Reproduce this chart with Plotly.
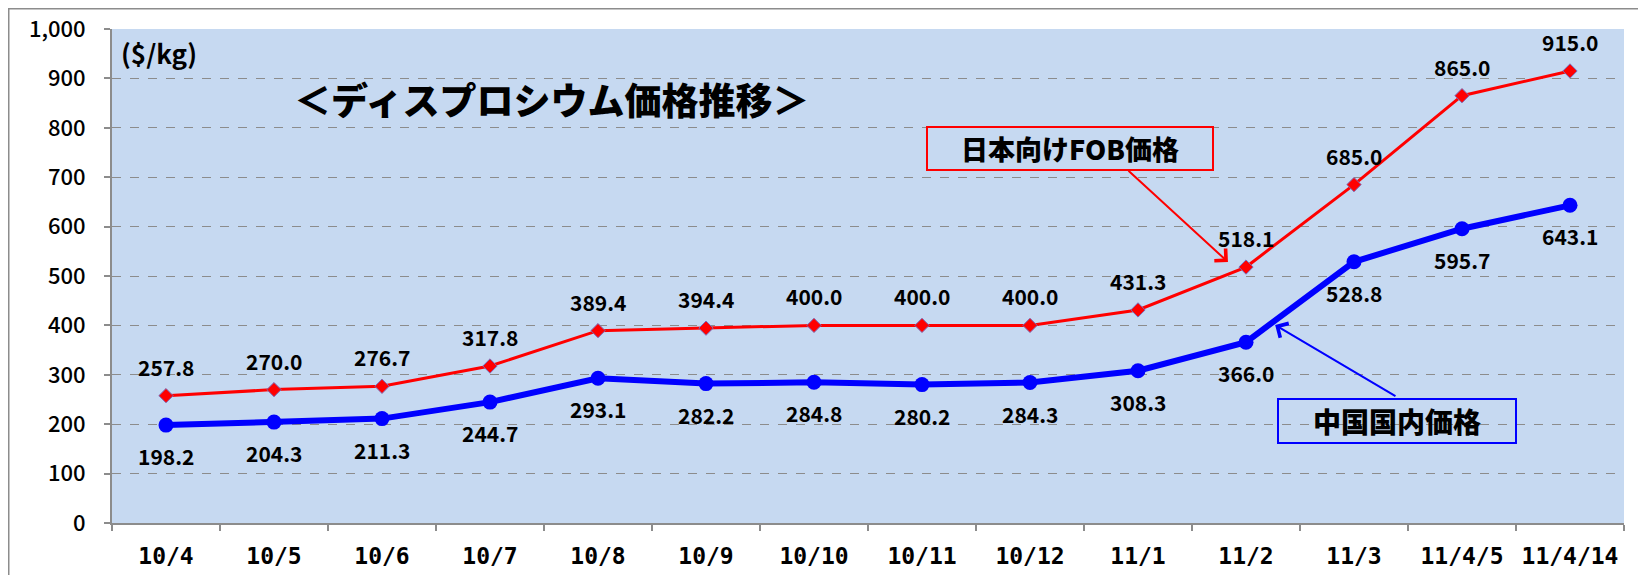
import plotly.graph_objects as go

categories = ["10/4", "10/5", "10/6", "10/7", "10/8", "10/9", "10/10", "10/11",
              "10/12", "11/1", "11/2", "11/3", "11/4/5", "11/4/14"]
fob_japan = [257.8, 270.0, 276.7, 317.8, 389.4, 394.4, 400.0, 400.0, 400.0,
             431.3, 518.1, 685.0, 865.0, 915.0]
china_domestic = [198.2, 204.3, 211.3, 244.7, 293.1, 282.2, 284.8, 280.2, 284.3,
                  308.3, 366.0, 528.8, 595.7, 643.1]
y_ticks = [0, 100, 200, 300, 400, 500, 600, 700, 800, 900, 1000]

FONT = "Noto Sans CJK JP"
MONO = "DejaVu Sans Mono"
OFF = 8  # page body margin
W, H = 1638, 567
L, R, T, B = 104, 22, 21, 52
PW, PH = W - L - R, H - T - B


def px2paper_x(px):
    return (px - OFF - L) / PW


def px2paper_y(py):
    return (H - B - (py - OFF)) / PH


fig = go.Figure()

fig.add_trace(go.Scatter(
    x=categories, y=fob_japan, mode="lines+markers", name="日本向けFOB価格",
    line=dict(color="#FF0000", width=3),
    marker=dict(symbol="diamond", size=11, color="#FF0000",
                line=dict(color="#7B6BB8", width=1)),
))
fig.add_trace(go.Scatter(
    x=categories, y=china_domestic, mode="lines+markers", name="中国国内価格",
    line=dict(color="#0000FF", width=6),
    marker=dict(symbol="circle", size=15, color="#0000FF"),
))

annotations = []
for c, v in zip(categories, fob_japan):
    annotations.append(dict(x=c, y=v, text=f"{v:.1f}", showarrow=False,
                            yshift=29, xanchor="center", yanchor="middle",
                            font=dict(family=FONT, size=21, color="#000000", weight=700)))
for c, v in zip(categories, china_domestic):
    annotations.append(dict(x=c, y=v, text=f"{v:.1f}", showarrow=False,
                            yshift=-31, xanchor="center", yanchor="middle",
                            font=dict(family=FONT, size=21, color="#000000", weight=700)))

# unit label
annotations.append(dict(xref="paper", yref="paper", x=px2paper_x(119), y=px2paper_y(52),
                        text="($/kg)", showarrow=False, xanchor="left", yanchor="middle",
                        font=dict(family=FONT, size=26, color="#000000", weight=700)))
# title
annotations.append(dict(xref="paper", yref="paper", x=px2paper_x(551), y=px2paper_y(99),
                        text="＜ディスプロシウム価格推移＞", showarrow=False,
                        xanchor="center", yanchor="middle",
                        font=dict(family=FONT, size=37, color="#000000", weight=900)))
# callout boxes
annotations.append(dict(xref="paper", yref="paper", x=px2paper_x(1070), y=px2paper_y(148.5),
                        text="日本向けFOB価格", showarrow=False,
                        xanchor="center", yanchor="middle", width=284, height=41,
                        bordercolor="#FF0000", borderwidth=2, borderpad=0,
                        font=dict(family=FONT, size=27, color="#000000", weight=900)))
annotations.append(dict(xref="paper", yref="paper", x=px2paper_x(1397), y=px2paper_y(421),
                        text="中国国内価格", showarrow=False,
                        xanchor="center", yanchor="middle", width=236, height=42,
                        bordercolor="#0000FF", borderwidth=2, borderpad=0,
                        font=dict(family=FONT, size=28, color="#000000", weight=900)))
# callout arrows
annotations.append(dict(xref="x", yref="y", axref="x", ayref="y",
                        x=9.833, y=528.3, ax=8.898, ay=716.0, text="",
                        showarrow=True, arrowhead=4, arrowsize=1.6, arrowwidth=2,
                        arrowcolor="#FF0000", standoff=0, startstandoff=0))
annotations.append(dict(xref="x", yref="y", axref="x", ayref="y",
                        x=10.27, y=400.8, ax=11.398, ay=255.0, text="",
                        showarrow=True, arrowhead=4, arrowsize=1.6, arrowwidth=2,
                        arrowcolor="#0000FF", standoff=0, startstandoff=0))

fig.update_layout(
    width=W, height=H,
    margin=dict(l=L, r=R, t=T, b=B, autoexpand=False),
    paper_bgcolor="#FFFFFF",
    plot_bgcolor="#C6D9F1",
    showlegend=False,
    annotations=annotations,
    shapes=[dict(type="rect", xref="paper", yref="paper",
                 x0=px2paper_x(8.5), x1=px2paper_x(1700),
                 y0=px2paper_y(640), y1=px2paper_y(8.5),
                 line=dict(color="#8C8C8C", width=2), fillcolor="rgba(0,0,0,0)",
                 layer="below")],
)

fig.update_xaxes(
    type="category", range=[-0.5, len(categories) - 0.5], automargin=False,
    showline=True, linecolor="#8C8C8C", linewidth=2,
    ticks="outside", tickson="boundaries", ticklen=6, tickcolor="#8C8C8C", tickwidth=2,
    showgrid=False, ticklabelstandoff=11,
    tickfont=dict(family=MONO, size=23, color="#000000", weight=700),
)
fig.update_yaxes(
    range=[0, 1000], tickvals=y_ticks, tickformat=",d", automargin=False,
    showline=True, linecolor="#8C8C8C", linewidth=2,
    ticks="outside", ticklen=6, tickcolor="#8C8C8C", tickwidth=2,
    showgrid=True, gridcolor="#8C8C8C", gridwidth=1, griddash="dash",
    zeroline=False, ticklabelstandoff=14,
    tickfont=dict(family=FONT, size=22, color="#000000", weight=500),
)

fig.write_html("out.html")
